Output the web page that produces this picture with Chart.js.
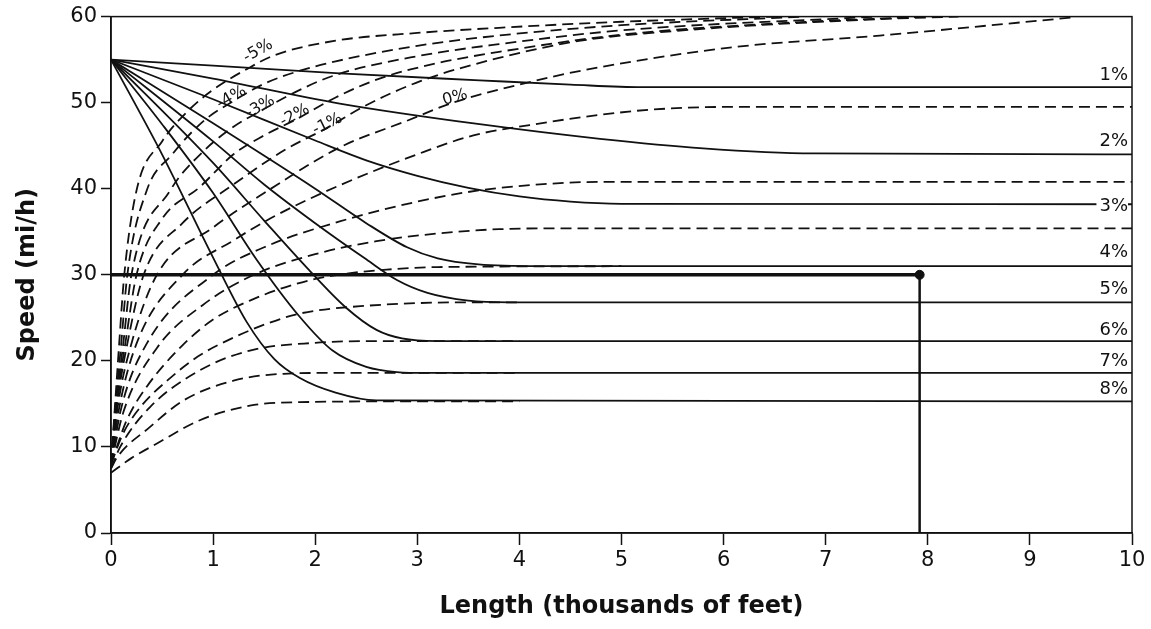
<!DOCTYPE html>
<html>
<head>
<meta charset="utf-8">
<script src="https://cdn.jsdelivr.net/npm/chart.js@4/dist/chart.umd.min.js"></script>
<style>
  body { margin: 0; background: #fff; }
</style>
</head>
<body>
<canvas id="myChart" width="1151" height="629"></canvas>
<script>
// x = length (thousands of feet), y = speed (mi/h)
// deceleration curves (solid), truck enters grade at 55 mi/h
const decel1 = [[0,55],[1,54.3],[2.24,53.4],[3.61,52.6],[4.5,52.1],[5.2,51.8],[10,51.8]];
const decel2 = [[0,55],[1,52.8],[2.24,49.9],[3.61,47.5],[4.79,45.8],[5.8,44.7],[6.88,44.1],[10,44]];
const decel3 = [[0,55],[1,50.4],[2,45.6],[2.5,43.3],[3,41.5],[3.5,40.1],[4,39.1],[4.5,38.5],[5,38.25],[10,38.2]];
const decel4 = [[0,55],[1,47.6],[2,40],[2.5,36],[2.9,33.2],[3.2,31.9],[3.6,31.2],[4.2,31],[10,31]];
const decel5 = [[0,55],[1,45.5],[1.5,40.5],[2,36],[2.5,31.8],[2.8,29.4],[3.1,27.9],[3.5,27],[3.9,26.8],[10,26.8]];
const decel6 = [[0,55],[1,43],[1.5,36.3],[1.92,30.8],[2.3,26.2],[2.6,23.6],[2.85,22.6],[3.2,22.3],[10,22.3]];
const decel7 = [[0,55],[0.5,47.5],[1,39.5],[1.43,31.7],[1.85,25.1],[2.17,21.2],[2.5,19.3],[2.8,18.7],[3.1,18.6],[10,18.6]];
const decel8 = [[0,55],[0.5,44],[1,32],[1.33,24.5],[1.6,20.2],[1.85,18],[2.2,16.3],[2.6,15.4],[10,15.3]];

// acceleration curves (dashed)
const accelM5 = [[0,8],[0.04,15],[0.08,22],[0.13,30],[0.25,39.8],[0.5,45.5],[0.75,49],[1,51.5],[1.33,53.9],[1.6,55.5],[2.2,57.2],[3,58.1],[3.8,58.7],[5,59.4],[6.5,60]];
const accelM4 = [[0,8],[0.045,15],[0.1,22],[0.16,30],[0.35,39.8],[0.6,44],[0.9,47.8],[1.2,50.2],[1.5,52.2],[1.82,53.6],[2.2,54.8],[3,56.6],[3.8,57.8],[5,59],[6.8,60]];
const accelM3 = [[0,8],[0.05,15],[0.12,22],[0.2,30],[0.58,39.8],[0.9,44.3],[1.2,47.2],[1.46,49],[1.8,51.2],[2.17,53.1],[3,55.4],[3.8,56.8],[5,58.4],[7.5,60]];
const accelM2 = [[0,8],[0.055,15],[0.14,22],[0.25,30],[0.5,36.5],[0.87,40.2],[1.2,44],[1.5,46.2],[1.82,48.1],[2.2,50.6],[2.63,52.8],[3.2,54.6],[3.8,55.9],[5,57.9],[6.5,59.2],[8,60]];
const accelM1 = [[0,8],[0.06,15],[0.16,22],[0.32,30],[0.7,36],[1.2,40.5],[1.7,44.5],[2.12,47.1],[2.5,49.7],[3.03,52.5],[3.8,55.2],[4.6,57.2],[5.6,58.4],[7.5,59.7],[8.3,60]];
const accel0 = [[0,8],[0.07,15],[0.2,22],[0.45,30],[1,35.5],[1.5,39.5],[2.24,44.8],[2.9,47.9],[3.35,50],[4.07,52.3],[4.6,53.7],[6.06,56.4],[7.53,57.8],[9.42,59.9]];
const accel1 = [[0,8],[0.08,14.5],[0.25,22],[0.7,30],[1.2,34],[1.6,36.8],[2.24,40.4],[3,44],[3.55,46.2],[4.1,47.4],[4.8,48.6],[5.3,49.2],[6,49.5],[10,49.5]];
const accel2 = [[0,8],[0.1,14.5],[0.35,22],[1,30],[1.5,33.2],[2.24,36.2],[3,38.5],[3.6,39.8],[4.2,40.5],[4.8,40.8],[10,40.8]];
const accel3 = [[0,8],[0.12,14],[0.45,21.5],[0.9,26.5],[1.4,30],[2,32.4],[2.6,33.9],[3.2,34.8],[3.8,35.3],[4.5,35.4],[10,35.4]];
const accel4 = [[0,8],[0.15,13],[0.35,17],[0.7,21.8],[1,24.8],[1.36,27],[1.8,28.9],[2.17,29.9],[2.7,30.6],[3.2,30.9],[5,31]];
const accel5 = [[0,8],[0.12,11.6],[0.3,14.8],[0.55,17.7],[0.85,20.5],[1.2,22.7],[1.5,24.2],[1.85,25.5],[2.5,26.4],[3.5,26.8],[4,26.8]];
const accel6 = [[0,7.5],[0.09,10],[0.38,14.6],[0.87,18.9],[1.36,21.2],[2,22.1],[2.6,22.3],[4,22.3]];
const accel7 = [[0,7.5],[0.06,8.8],[0.38,12.3],[0.71,15.4],[1.2,17.7],[1.69,18.5],[2.2,18.6],[4,18.6]];
const accel8 = [[0,7],[0.2,8.7],[0.45,10.4],[0.87,13.1],[1.36,14.8],[1.85,15.2],[3,15.3],[4,15.3]];

// worked example: 30 mi/h reached at about 7,920 ft
const exampleSpeed = [[0,30],[7.92,30]];
const exampleLength = [[7.92,30],[7.92,0]];
const examplePoint = [[7.92,30]];

// grade labels (text, x, y, rotation in degrees)
const gradeLabels = [
  ['-5%', 1.44, 56.0, -30],
  ['-4%', 1.18, 50.6, -30],
  ['-3%', 1.46, 49.5, -30],
  ['-2%', 1.8, 48.5, -28],
  ['-1%', 2.12, 47.5, -26],
  ['0%', 3.37, 50.6, -16]
];
const crawlLabels = [
  ['1%', 53.2], ['2%', 45.5], ['3%', 38.0], ['4%', 32.6],
  ['5%', 28.3], ['6%', 23.6], ['7%', 20.0], ['8%', 16.7]
];

const xTicks = [0,1,2,3,4,5,6,7,8,9,10];
const yTicks = [0,10,20,30,40,50,60];

const INK = '#111';
const FONT = '"DejaVu Sans", Verdana, sans-serif';

function curve(points, dashed) {
  return {
    data: points.map(p => ({x: p[0], y: p[1]})),
    borderColor: INK,
    borderWidth: 1.8,
    borderDash: dashed ? [11, 6] : [],
    pointRadius: 0,
    cubicInterpolationMode: 'monotone',
    fill: false
  };
}

const datasets = [];
[decel1, decel2, decel3, decel4, decel5, decel6, decel7, decel8].forEach(c => datasets.push(curve(c, false)));
[accelM5, accelM4, accelM3, accelM2, accelM1, accel0, accel1, accel2, accel3, accel4, accel5, accel6, accel7, accel8]
  .forEach(c => datasets.push(curve(c, true)));

datasets.push({
  data: exampleSpeed.map(p => ({x: p[0], y: p[1]})),
  borderColor: INK, borderWidth: 3.5, pointRadius: 0, tension: 0
});
datasets.push({
  data: exampleLength.map(p => ({x: p[0], y: p[1]})),
  borderColor: INK, borderWidth: 2.5, pointRadius: 0, tension: 0
});
datasets.push({
  data: examplePoint.map(p => ({x: p[0], y: p[1]})),
  borderColor: INK, backgroundColor: INK, pointRadius: 4.5, showLine: false
});

// frame and text labels
const labelsPlugin = {
  id: 'gradeText',
  afterDatasetsDraw(chart) {
    const ctx = chart.ctx;
    const xs = chart.scales.x, ys = chart.scales.y;
    const area = chart.chartArea;
    ctx.save();
    ctx.fillStyle = INK;
    ctx.font = '16px ' + FONT;
    ctx.textAlign = 'center';
    ctx.textBaseline = 'middle';
    gradeLabels.forEach(l => {
      ctx.save();
      ctx.translate(xs.getPixelForValue(l[1]), ys.getPixelForValue(l[2]));
      ctx.rotate(l[3] * Math.PI / 180);
      ctx.fillText(l[0], 0, 0);
      ctx.restore();
    });
    ctx.font = '18px ' + FONT;
    ctx.textAlign = 'right';
    crawlLabels.forEach(l => {
      const py = ys.getPixelForValue(l[1]);
      const px = area.right - 4;
      if (l[0] === '3%') {
        const w = ctx.measureText(l[0]).width;
        ctx.fillStyle = '#fff';
        ctx.fillRect(px - w - 3, py - 10, w + 3, 20);
        ctx.fillStyle = INK;
      }
      ctx.fillText(l[0], px, py);
    });
    ctx.strokeStyle = INK;
    ctx.lineWidth = 1.5;
    ctx.strokeRect(area.left, area.top, area.right - area.left, area.bottom - area.top);
    ctx.restore();
  }
};

const config = {
  type: 'line',
  data: { datasets: datasets },
  options: {
    responsive: false,
    animation: false,
    layout: { padding: { top: 16, right: 19, left: 0, bottom: 0 } },
    plugins: {
      legend: { display: false },
      tooltip: { enabled: false }
    },
    scales: {
      x: {
        type: 'linear',
        min: 0, max: 10,
        afterFit: s => { s.height = 96; },
        afterBuildTicks: s => { s.ticks = xTicks.map(v => ({value: v})); },
        grid: { drawOnChartArea: false, tickLength: 12, color: INK, tickWidth: 1.5 },
        border: { color: INK, width: 1.5 },
        ticks: { color: INK, padding: 3, font: { family: FONT, size: 21 } },
        title: {
          display: true, text: 'Length (thousands of feet)', color: INK,
          padding: { top: 0, bottom: 8 },
          font: { family: FONT, size: 24, weight: 'bold' }
        }
      },
      y: {
        type: 'linear',
        min: 0, max: 60,
        afterFit: s => { s.width = 111; },
        afterBuildTicks: s => { s.ticks = yTicks.map(v => ({value: v})); },
        grid: { drawOnChartArea: false, tickLength: 10, color: INK, tickWidth: 1.5 },
        border: { color: INK, width: 1.5 },
        ticks: { color: INK, padding: 4, font: { family: FONT, size: 21 } },
        title: {
          display: true, text: 'Speed (mi/h)', color: INK,
          padding: { top: 13, bottom: 0 },
          font: { family: FONT, size: 24, weight: 'bold' }
        }
      }
    }
  },
  plugins: [labelsPlugin]
};

const myChart = new Chart(document.getElementById('myChart'), config);
</script>
</body>
</html>
